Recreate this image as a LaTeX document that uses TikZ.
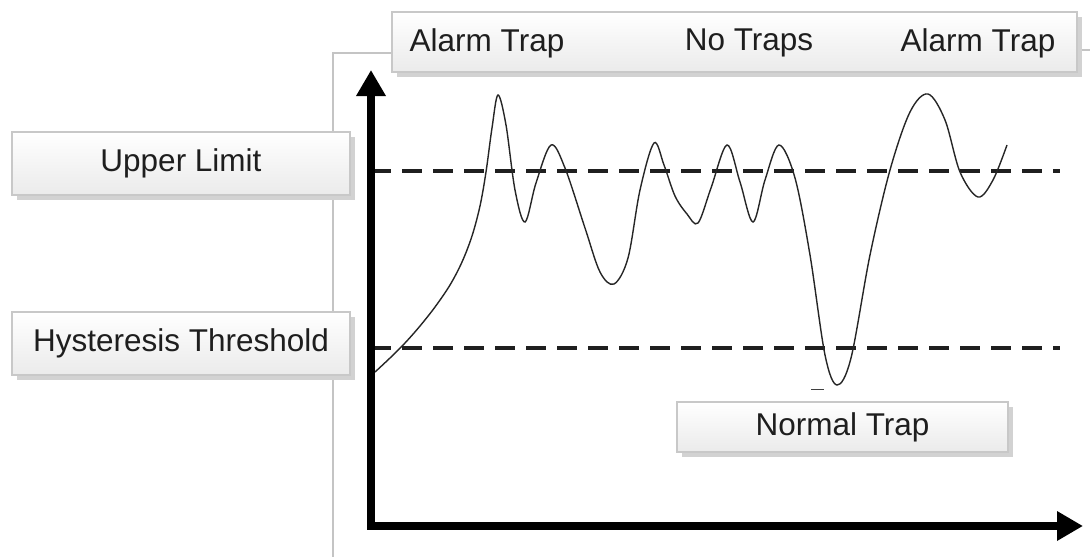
\documentclass[tikz,border=0pt]{standalone}
\usepackage{fontspec}
\setmainfont{Liberation Sans}
\usetikzlibrary{arrows.meta,shadows}
\definecolor{framegray}{HTML}{C4C4C4}
\definecolor{boxborder}{HTML}{C8C8C8}
\definecolor{shadowgray}{HTML}{D2D2D2}
\definecolor{txt}{HTML}{1E1E1E}
\tikzset{
  labelbox/.style={rectangle, draw=boxborder, line width=1.2pt, top color=white, bottom color=black!8,
    drop shadow={shadow xshift=5pt, shadow yshift=-5pt, opacity=1, fill=shadowgray},
    inner sep=0pt, text=txt, font=\fontsize{31.5}{36}\selectfont},
  labeltext/.style={text=txt, font=\fontsize{31.5}{36}\selectfont},
  framepath/.style={draw=framegray, line width=1.3pt},
  limitline/.style={draw=black!88, line width=4pt, dash pattern=on 20pt off 11pt},
  axisline/.style={line width=8pt, line join=miter},
  signal/.style={draw=black!85, line width=1.4pt}
}
\begin{document}
\begin{tikzpicture}[x=1pt,y=-1pt]
\useasboundingbox (0,0) rectangle (1090,557);
\fill[white] (0,0) rectangle (1090,557);
% background frame
\coordinate (f1) at (333,557);
\coordinate (f2) at (333,53);
\coordinate (f3) at (392,53);
\coordinate (f4) at (392,30);
\coordinate (f5) at (1077,50);
\coordinate (f6) at (1090,50);
\path[framepath] (f1) -- (f2) -- (f3) -- (f4);
\path[framepath] (f5) -- (f6);
% label boxes
\node[labelbox, minimum width=685pt, minimum height=60pt] (top) at (734.5,42) {};
\node[labeltext] (alarm1) at (487,43) {Alarm Trap};
\node[labeltext] (notraps) at (749,43) {No Traps};
\node[labeltext] (alarm2) at (978,43) {Alarm Trap};
\node[labelbox, minimum width=338pt, minimum height=63pt] (upper) at (181,163.5) {Upper Limit};
\node[labelbox, minimum width=338pt, minimum height=63pt] (hyst) at (181,343.5) {Hysteresis Threshold};
\node[labelbox, minimum width=331pt, minimum height=50pt] (normal) at (842.5,427) {Normal Trap};
% limit lines
\coordinate (ul1) at (371,171);
\coordinate (ul2) at (1060,171);
\coordinate (hl1) at (371,348);
\coordinate (hl2) at (1060,348);
\path[limitline] (ul1) -- (ul2);
\path[limitline] (hl1) -- (hl2);
% signal
\draw[signal] plot[smooth, tension=0.55] coordinates {
 (375,372) (390,358) (405,343) (420,326) (435,307) (450,285) (462,262) (472,236)
 (480,206) (486,172) (492,128) (498,95)
 (506,125) (515,190) (525,222) (536,183) (551,145) (565,168) (585,228) (600,272)
 (614,284) (628,258) (640,190) (654,143) (664,165) (675,196) (687,214) (698,223)
 (711,188) (727,145) (740,182) (753,222) (765,180) (779,145) (795,178) (810,255)
 (825,355) (837,385) (851,358) (870,255) (890,170) (910,112) (928,94) (945,120)
 (960,172) (978,197) (993,180) (1007,145)};
\coordinate (m1) at (811,389.5);
\coordinate (m2) at (824,389.5);
\draw[black!75, line width=1.5pt] (m1) -- (m2);
% axes
\coordinate (ytip) at (371,70);
\coordinate (origin) at (371,526);
\coordinate (xtip) at (1083,526);
\draw[axisline, {Triangle[length=26pt,width=28pt]}-{Triangle[length=26pt,width=28pt]}] (ytip) -- (origin) -- (xtip);
\end{tikzpicture}
\end{document}
